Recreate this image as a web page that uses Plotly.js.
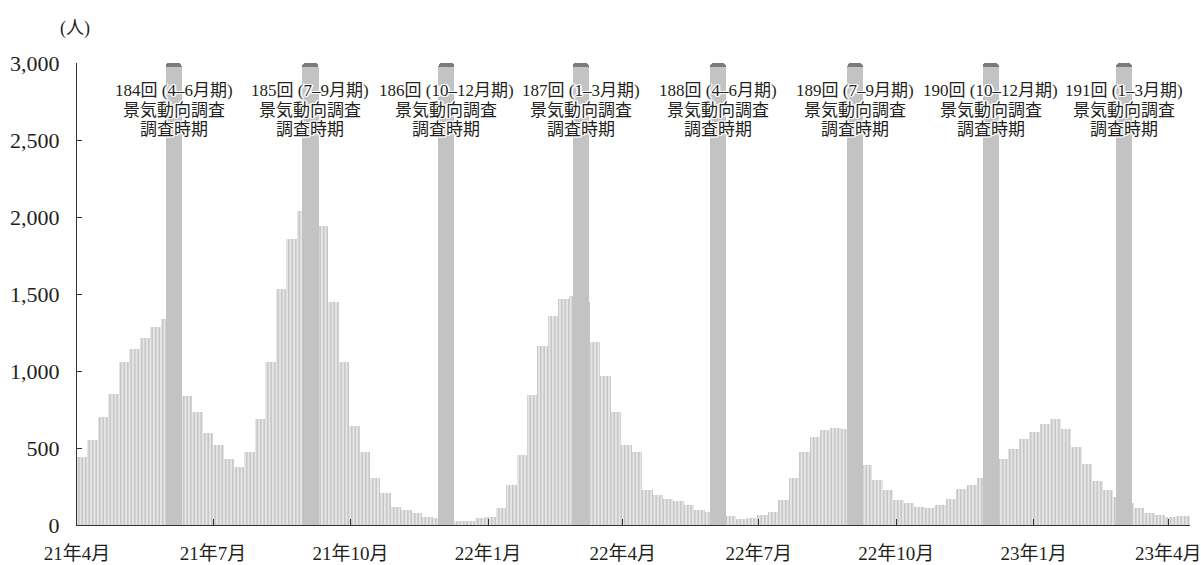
<!DOCTYPE html>
<html>
<head>
<meta charset="utf-8">
<script src="https://cdn.plot.ly/plotly-3.0.1.min.js"></script>
<style>
  html, body { margin: 0; padding: 0; background: #ffffff; }
  #chart { width: 1201px; height: 565px; }
</style>
</head>
<body>
<div id="chart"></div>
<script>
// ---- data ----
const weekStart = "2021-04-01";            // first weekly bar starts here
const weeklyValues = [
  442, 550, 700, 852, 1057, 1143, 1212, 1288, 1340, 1200,
  840, 733, 600, 518, 431, 377, 474, 690, 1057, 1531,
  1855, 2040, 2050, 1941, 1445, 1057, 640, 475, 302, 205,
  119, 97, 75, 54, 43, 35, 26, 26, 43, 54,
  108, 259, 453, 841, 1165, 1359, 1467, 1488, 1450, 1190,
  970, 733, 518, 475, 226, 194, 168, 155, 129, 97,
  86, 70, 60, 39, 47, 65, 86, 162, 302, 475,
  572, 615, 632, 621, 600, 388, 291, 226, 162, 140,
  119, 110, 129, 168, 237, 259, 306, 330, 431, 496,
  561, 604, 658, 686, 625, 507, 399, 285, 226, 183,
  140, 112, 75, 65, 54, 58, 60
];

const surveyRound = ["184回 (4–6月期)", "185回 (7–9月期)", "186回 (10–12月期)", "187回 (1–3月期)",
                     "188回 (4–6月期)", "189回 (7–9月期)", "190回 (10–12月期)", "191回 (1–3月期)"];
const surveyLine2 = "景気動向調査";
const surveyLine3 = "調査時期";
const surveyStart = ["2021-05-30T07:00", "2021-08-29T12:00", "2021-11-28T17:00", "2022-02-26T12:00",
                     "2022-05-29T10:00", "2022-08-29T07:00", "2022-11-27T19:00", "2023-02-25T00:00"];
const surveyEnd   = ["2021-06-10T00:00", "2021-09-09T14:00", "2021-12-09T10:00", "2022-03-09T12:00",
                     "2022-06-09T00:00", "2022-09-08T14:00", "2022-12-08T17:00", "2023-03-07T14:00"];
const surveyTop = 3000;

const tickDates  = ["2021-04-01", "2021-07-01", "2021-10-01", "2022-01-01", "2022-04-01",
                    "2022-07-01", "2022-10-01", "2023-01-01", "2023-04-01"];
const tickLabels = ["21年4月", "21年7月", "21年10月", "22年1月", "22年4月",
                    "22年7月", "22年10月", "23年1月", "23年4月"];
const yTicks = [0, 500, 1000, 1500, 2000, 2500, 3000];

// ---- helpers ----
const DAY = 86400000;
const toMs = s => new Date(s + (s.length === 10 ? "T00:00Z" : "Z")).getTime();
const toStr = ms => new Date(ms).toISOString().replace("Z", "");

const FONT = "'Liberation Serif', 'Noto Sans CJK JP', serif";
const startMs = toMs(weekStart);
const weekX = weeklyValues.map((v, i) => toStr(startMs + (7 * i + 3.5) * DAY));

const bandMid = surveyStart.map((s, i) => toStr((toMs(s) + toMs(surveyEnd[i])) / 2));
const bandWidth = surveyStart.map((s, i) => toMs(surveyEnd[i]) - toMs(s));

const dataTrace = {
  type: "bar",
  x: weekX,
  y: weeklyValues,
  width: weeklyValues.map(() => 7 * DAY),
  marker: {
    color: "#e4e4e4",
    line: { width: 0 },
    pattern: { shape: "|", size: 3.5, solidity: 0.32, fgcolor: "#b8b8b8", bgcolor: "#e6e6e6", fillmode: "replace" }
  },
  hoverinfo: "skip"
};

const capTrace = {
  type: "bar",
  x: bandMid,
  y: surveyStart.map(() => surveyTop),
  width: bandWidth,
  marker: { color: "#7b7b7b", line: { width: 0 }, cornerradius: 4 },
  hoverinfo: "skip"
};

const bandTrace = {
  type: "bar",
  x: bandMid,
  y: surveyStart.map(() => surveyTop - 26),
  width: bandWidth,
  marker: { color: "#c3c3c4", line: { width: 0 } },
  hoverinfo: "skip"
};

const halo = "1px 0 0 #fff, -1px 0 0 #fff, 0 1px 0 #fff, 0 -1px 0 #fff, 1px 1px 0 #fff, -1px -1px 0 #fff, 1px -1px 0 #fff, -1px 1px 0 #fff, 2px 0 1px #fff, -2px 0 1px #fff";

const annotations = [];
const lineY = [2820, 2690, 2565];
surveyRound.forEach((r, i) => {
  [r, surveyLine2, surveyLine3].forEach((t, k) => {
    annotations.push({
      xref: "x", yref: "y", x: bandMid[i], y: lineY[k],
      text: t, showarrow: false, xanchor: "center", yanchor: "middle",
      font: { family: FONT, size: 17, color: "#231f20", shadow: halo }
    });
  });
});
annotations.push({
  xref: "paper", yref: "paper", x: -0.002, y: 1.074,
  text: "(人)", showarrow: false, xanchor: "center", yanchor: "middle",
  font: { family: FONT, size: 18, color: "#231f20" }
});

const layout = {
  width: 1201, height: 565,
  margin: { l: 77, r: 11, t: 63, b: 40, pad: 0 },
  paper_bgcolor: "#ffffff", plot_bgcolor: "#ffffff",
  barmode: "overlay", bargap: 0, showlegend: false,
  font: { family: FONT, color: "#231f20" },
  xaxis: {
    type: "date",
    range: ["2021-04-01", "2023-04-15 12:00"],
    tickmode: "array", tickvals: tickDates, ticktext: tickLabels,
    ticks: "inside", ticklen: 6, tickwidth: 1, tickcolor: "#333333",
    showline: true, linecolor: "#333333", linewidth: 1,
    showgrid: false, zeroline: false,
    tickfont: { family: FONT, size: 19, color: "#231f20" },
    ticklabelstandoff: 11,
    ticklabeloverflow: "allow",
    fixedrange: true
  },
  yaxis: {
    range: [0, 3000],
    tickmode: "array", tickvals: yTicks, tickformat: ",d",
    ticks: "inside", ticklen: 5, tickwidth: 1, tickcolor: "#333333",
    showline: true, linecolor: "#333333", linewidth: 1,
    showgrid: false, zeroline: false,
    tickfont: { family: FONT, size: 22, color: "#231f20" },
    ticklabelstandoff: 12,
    ticklabeloverflow: "allow",
    fixedrange: true
  },
  annotations: annotations
};

Plotly.newPlot("chart", [dataTrace, capTrace, bandTrace], layout, { displayModeBar: false, staticPlot: true });
</script>
</body>
</html>
